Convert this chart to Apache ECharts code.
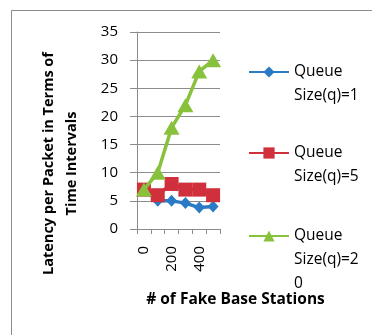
<!DOCTYPE html>
<html>
<head>
<meta charset="utf-8">
<script src="https://cdn.jsdelivr.net/npm/echarts@6/dist/echarts.min.js"></script>
<style>
  html, body { margin: 0; padding: 0; background: #ffffff; }
  #chart { width: 372px; height: 335px; }
</style>
</head>
<body>
<div id="chart"></div>
<script>
// Number of fake base stations (category axis)
const categories = ['0', '100', '200', '300', '400', '500'];

// Latency per packet, in time intervals, for each queue size
const queue1 = [7, 5, 5, 4.6, 3.8, 4];
const queue5 = [7, 6, 8, 7, 7, 6];
const queue20 = [7, 10, 18, 22, 28, 30];

const seriesNames = ['Queue Size(q)=1', 'Queue Size(q)=5', 'Queue Size(q)=20'];
// wrapped legend text, as the narrow legend column breaks it
const legendLines = [['Queue', 'Size(q)=1'], ['Queue', 'Size(q)=5'], ['Queue', 'Size(q)=2', '0']];

const yMin = 0, yMax = 35, yStep = 5;

const FONT = 'Open Sans';
const GRAY = '#8c8c8c';
const LH = 24;

const colors = ['#2a7ac6', '#d0303c', '#88c23c'];
const symbols = ['diamond', 'rect', 'triangle'];
const symbolSizes = [[11, 12], 14, [16, 14]];
const values = [queue1, queue5, queue20];

// One legend block per series. Blank lines above the text keep the
// legend icon level with the first text line (the icon sits at the
// vertical centre of the text block).
const legendTops = [36, 117, 176];
const legends = seriesNames.map((name, i) => {
  const lines = legendLines[i];
  const label = new Array(lines.length - 1).fill(' ').concat(lines).join('\n');
  return {
    left: 248,
    top: legendTops[i],
    padding: 0,
    itemWidth: 40,
    itemHeight: 14,
    selectedMode: false,
    formatter: () => label,
    textStyle: { fontFamily: FONT, fontSize: 15.5, color: '#000', lineHeight: LH },
    data: [name]
  };
});

const chart = echarts.init(document.getElementById('chart'), null, { renderer: 'canvas' });
chart.setOption({
  animation: false,
  backgroundColor: '#ffffff',
  // chart-area frame
  graphic: [{
    type: 'rect',
    shape: { x: 11.5, y: 10.5, width: 500, height: 500 },
    style: { fill: 'none', stroke: GRAY, lineWidth: 1 },
    silent: true
  }],
  grid: { left: 137, top: 32, width: 83, height: 197, outerBoundsMode: 'none' },
  legend: legends,
  xAxis: {
    type: 'category',
    data: categories,
    boundaryGap: true,
    name: '# of Fake Base Stations',
    nameLocation: 'middle',
    nameGap: 63,
    nameTextStyle: {
      fontFamily: FONT, fontSize: 15.5, fontWeight: 'bold', color: '#000',
      padding: [0, 0, 0, 114]
    },
    axisLine: { lineStyle: { color: GRAY, width: 1 } },
    axisTick: { show: true, interval: 0, length: 5, lineStyle: { color: GRAY } },
    axisLabel: {
      interval: 1, rotate: 90, margin: 17, align: 'right', verticalAlign: 'middle',
      fontFamily: FONT, fontSize: 15, color: '#000'
    },
    splitLine: { show: false }
  },
  yAxis: {
    type: 'value',
    min: yMin, max: yMax, interval: yStep,
    name: 'Latency per Packet in Terms of\nTime Intervals',
    nameLocation: 'middle',
    nameRotate: 90,
    nameGap: 54,
    nameTextStyle: {
      fontFamily: FONT, fontSize: 14.5, fontWeight: 'bold', color: '#000',
      lineHeight: 23, padding: [0, 66, 0, 0]
    },
    axisLine: { show: true, lineStyle: { color: GRAY, width: 1 } },
    axisTick: { show: true, length: 7, lineStyle: { color: GRAY } },
    axisLabel: { margin: 19, fontFamily: FONT, fontSize: 15, color: '#000' },
    splitLine: { show: true, lineStyle: { color: GRAY, width: 1 } }
  },
  series: seriesNames.map((name, i) => ({
    type: 'line',
    name: name,
    data: values[i],
    symbol: symbols[i],
    symbolSize: symbolSizes[i],
    showAllSymbol: true,
    itemStyle: { color: colors[i] },
    lineStyle: { color: colors[i], width: 3.5 },
    z: 2 + i
  }))
});
</script>
</body>
</html>
